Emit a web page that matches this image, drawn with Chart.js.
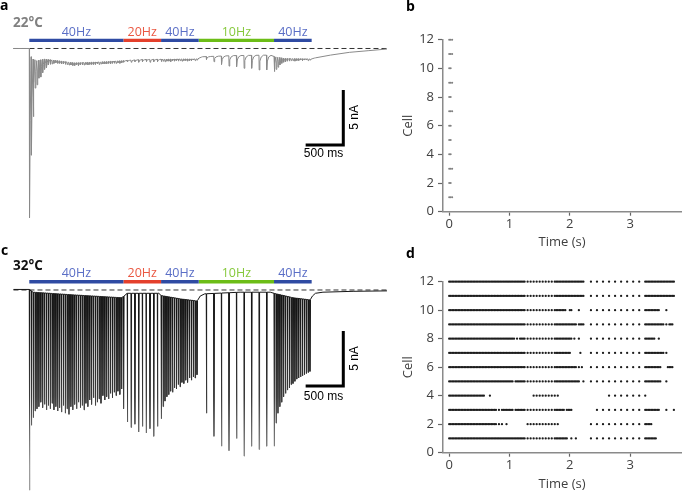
<!DOCTYPE html>
<html lang="en">
<head>
<meta charset="UTF-8" />
<title>EPSC trains and spike rasters</title>
<script src="https://cdn.jsdelivr.net/npm/chart.js"></script>
<style>
  html, body { margin: 0; padding: 0; background: #fff; overflow: hidden; }
  #fig { position: relative; width: 685px; height: 492px; overflow: hidden; font-family: 'Open Sans', sans-serif; }
  .panel { position: absolute; }
  .panel canvas { display: block; }
  .txt { position: absolute; line-height: 1; font-weight: bold; white-space: nowrap; }
</style>
</head>
<body>
<div id="fig">
  <div class="panel" style="left:0;top:0"><canvas id="traceA" width="400" height="250"></canvas></div>
  <div class="panel" style="left:400px;top:0"><canvas id="rasterB" width="285" height="250"></canvas></div>
  <div class="panel" style="left:0;top:250px"><canvas id="traceC" width="400" height="242"></canvas></div>
  <div class="panel" style="left:400px;top:250px"><canvas id="rasterD" width="285" height="242"></canvas></div>

  <div class="txt" style="left:0;top:-2.4px;font-size:14px">a</div>
  <div class="txt" style="left:406px;top:-0.7px;font-size:14px">b</div>
  <div class="txt" style="left:1px;top:243px;font-size:14px">c</div>
  <div class="txt" style="left:406px;top:245.6px;font-size:14px">d</div>
  <div class="txt" style="left:13px;top:16.3px;font-size:13.5px;color:#808080">22°C</div>
  <div class="txt" style="left:13px;top:258.7px;font-size:13.5px;color:#111">32°C</div>
</div>
<script>
// stimulation protocol
const stimLabels = ['40Hz', '20Hz', '40Hz', '10Hz', '40Hz'];
const stimStart = [0, 1.25, 1.75, 2.25, 3.25];
const stimEnd = [1.25, 1.75, 2.25, 3.25, 3.75];
const stimHz = [40, 20, 40, 10, 40];
const stimFirst = [0, 0, 0, 1, 0]; // the 10 Hz train starts one period in

// 22°C trace: peak current of each evoked EPSC (nA), per train
const peaks22 = [
  [-15.4, -9.7, -6.2, -3.6, -3.3, -2.7, -2.6, -2.2, -1.9, -1.75,
   -1.5, -1.45, -1.4, -1.35, -1.3, -1.35, -1.35, -1.4, -1.4, -1.45,
   -1.45, -1.5, -1.5, -1.55, -1.55, -1.5, -1.55, -1.5, -1.5, -1.5,
   -1.45, -1.5, -1.45, -1.45, -1.45, -1.45, -1.4, -1.45, -1.4, -1.4,
   -1.4, -1.4, -1.35, -1.4, -1.35, -1.35, -1.35, -1.3, -1.35, -1.3],
  [-1.25, -1.2, -1.25, -1.2, -1.25, -1.2, -1.2, -1.25, -1.2, -1.2],
  [-1.2, -1.15, -1.2, -1.15, -1.15, -1.2, -1.1, -1.15, -1.1, -1.15,
   -1.1, -1.15, -1.1, -1.1, -1.15, -1.1, -1.1, -1.05, -1.1, -1.05],
  [-1.0, -1.2, -1.45, -1.6, -1.65, -1.8, -1.8, -1.95, -1.95],
  [-2.1, -1.9, -1.7, -1.5, -1.35, -1.25, -1.2, -1.15, -1.15, -1.1,
   -1.1, -1.15, -1.1, -1.1, -1.05, -1.1, -1.05, -1.05, -1.1, -1.05]
];
// 22°C slow (holding) current between EPSCs
const floorT22 = [-0.21, 0, 0.03, 0.1, 0.2, 0.6, 1.0, 1.5, 2.0, 2.22, 2.3, 2.7, 3.2, 3.26, 3.4, 3.74, 3.8, 4.0, 4.25, 4.5, 4.75];
const floorV22 = [0, 0, -0.9, -1.1, -0.95, -1.3, -1.2, -1.0, -0.95, -0.95, -0.75, -0.65, -0.6, -0.75, -0.9, -0.95, -0.85, -0.6, -0.35, -0.2, -0.05];

// 32°C trace
const peaks32 = [
  [-18.2, -12.3, -11.6, -11.0, -10.8, -10.6, -10.2, -10.7, -10.4, -10.9,
   -10.5, -10.8, -10.3, -10.9, -10.6, -11.0, -10.7, -11.1, -10.5, -11.2,
   -10.8, -11.3, -10.6, -10.9, -10.4, -10.8, -10.2, -10.7, -10.5, -10.9,
   -10.3, -10.6, -10.0, -10.4, -9.8, -10.5, -10.2, -9.9, -10.3, -9.6,
   -10.0, -9.7, -9.9, -9.4, -9.8, -9.3, -9.6, -9.2, -9.5, -9.0],
  [-10.8, -12.0, -12.5, -12.2, -12.9, -12.4, -13.0, -12.6, -13.3, -12.4],
  [-11.7, -10.6, -10.1, -9.7, -9.5, -9.2, -9.3, -8.9, -9.0, -8.6,
   -8.8, -8.4, -8.5, -8.2, -8.4, -8.0, -8.2, -7.9, -8.0, -7.7],
  [-11.2, -13.3, -14.2, -14.6, -13.5, -15.1, -14.2, -14.5, -14.2],
  [-14.2, -12.1, -11.2, -10.6, -10.2, -9.7, -9.4, -9.1, -8.9, -8.6,
   -8.5, -8.3, -8.1, -8.0, -7.9, -7.8, -7.7, -7.6, -7.5, -7.4]
];
const floorT32 = [-0.21, 0, 0.05, 0.6, 1.22, 1.25, 1.3, 1.72, 1.75, 2.0, 2.23, 2.27, 2.33, 2.8, 3.2, 3.25, 3.5, 3.73, 3.76, 3.8, 3.9, 4.3, 4.75];
const floorV32 = [0.05, 0.05, -0.2, -0.45, -0.7, -0.6, -0.3, -0.3, -0.5, -0.8, -1.0, -0.55, -0.35, -0.2, -0.2, -0.3, -0.7, -0.9, -0.55, -0.3, -0.2, -0.12, -0.08];

// rasters: time windows (s) in which each cell (1..12) fired on every pulse
const cells22 = [
  [[0, 0.05]], [[0, 0.025]], [[0, 0.05]], [[0, 0.025]], [[0, 0.025]], [[0, 0.025]],
  [[0, 0.05]], [[0, 0.025]], [[0, 0.05]], [[0, 0.025]], [[0, 0.05]], [[0, 0.05]]
];
const cells32 = [
  [[0, 1.95], [2.025, 2.025], [2.1, 2.1], [2.35, 3.425]],
  [[0, 0.775], [0.825, 0.825], [0.875, 0.875], [0.95, 0.95], [1.3, 1.7], [1.75, 1.75], [1.8, 1.8], [2.35, 3.35]],
  [[0, 0.775], [0.825, 0.825], [0.875, 1.05], [1.1, 1.9], [1.95, 2.025], [2.45, 3.475], [3.6, 3.6], [3.725, 3.725]],
  [[0, 0.575], [0.675, 0.675], [1.4, 1.7], [1.75, 1.75], [1.8, 1.8], [2.65, 3.15], [3.25, 3.25]],
  [[0, 1.05], [1.1, 2.15], [2.225, 2.225], [2.35, 3.5], [3.6, 3.6]],
  [[0, 2.1], [2.15, 2.15], [2.2, 2.2], [2.35, 3.5], [3.625, 3.7]],
  [[0, 2.0], [2.175, 2.175], [2.35, 3.55], [3.6, 3.6]],
  [[0, 1.075], [1.125, 1.125], [1.175, 1.225], [1.25, 2.025], [2.075, 2.075], [2.15, 2.15], [2.35, 3.4], [3.475, 3.475]],
  [[0, 2.1], [2.15, 2.225], [2.35, 3.55], [3.6, 3.6], [3.65, 3.7]],
  [[0, 1.925], [2.0, 2.025], [2.15, 2.15], [2.35, 3.475], [3.6, 3.6]],
  [[0, 3.75]],
  [[0, 3.75]]
];
const cellTicks = [0, 2, 4, 6, 8, 10, 12];
const timeTicks = [0, 1, 2, 3];

const stimColors = ['#2f4ba3', '#e4402c', '#2f4ba3', '#6cbd17', '#2f4ba3'];
const stimTextColors = ['#5a6ec6', '#ea5842', '#5a6ec6', '#86c93c', '#5a6ec6'];

Chart.defaults.font.family = "'Open Sans', sans-serif";

function pulseTime(b, k) {
  return +(stimStart[b] + (k + stimFirst[b]) / stimHz[b]).toFixed(4);
}

const rasterPulses = [];
stimStart.forEach((s, b) => {
  const n = Math.round((stimEnd[b] - s) * stimHz[b]) - stimFirst[b];
  for (let k = 0; k < n; k++) rasterPulses.push(pulseTime(b, k));
});

function floorAt(ft, fv, t) {
  if (t <= ft[0]) return fv[0];
  for (let i = 1; i < ft.length; i++) {
    if (t <= ft[i]) return fv[i - 1] + (fv[i] - fv[i - 1]) * (t - ft[i - 1]) / (ft[i] - ft[i - 1]);
  }
  return fv[fv.length - 1];
}

function buildTrace(peaks, ft, fv, shape) {
  const pulses = [];
  peaks.forEach((train, b) => train.forEach((p, k) => pulses.push({ t: pulseTime(b, k), peak: p })));
  const hold = shape.decay[shape.decay.length - 1][0];
  const pts = [];
  ft.forEach((t, i) => {
    if (!pulses.some(p => t >= p.t && t < p.t + hold)) pts.push({ x: t, y: fv[i] });
  });
  pulses.forEach((p, i) => {
    const next = i + 1 < pulses.length ? pulses[i + 1].t : Infinity;
    const base = floorAt(ft, fv, p.t);
    pts.push({ x: p.t, y: base });
    pts.push({ x: p.t + shape.rise, y: p.peak });
    shape.decay.forEach(([dt, frac]) => {
      if (p.t + dt < next - 0.001) pts.push({ x: p.t + dt, y: floorAt(ft, fv, p.t + dt) + frac * (p.peak - base) });
    });
  });
  return pts.sort((a, b) => a.x - b.x);
}

function rasterPoints(cells) {
  const pts = [];
  cells.forEach((wins, i) => {
    rasterPulses.forEach(t => {
      if (wins.some(([a, b]) => t >= a - 0.001 && t <= b + 0.001)) pts.push({ x: t, y: i + 1 });
    });
  });
  return pts;
}

// stimulus labels and scale-bar labels
const traceLabels = {
  id: 'traceLabels',
  afterDatasetsDraw(chart, args, opts) {
    const { ctx, scales: { x, y } } = chart;
    ctx.save();
    ctx.textAlign = 'center';
    ctx.textBaseline = 'alphabetic';
    ctx.font = "12.5px 'Open Sans'";
    stimLabels.forEach((lab, i) => {
      ctx.fillStyle = stimTextColors[i];
      ctx.fillText(lab, x.getPixelForValue((stimStart[i] + stimEnd[i]) / 2), y.getPixelForValue(opts.barLevel) - 4.5);
    });
    ctx.fillStyle = '#000';
    ctx.font = "12px 'Liberation Sans'";
    ctx.fillText('500 ms', x.getPixelForValue(opts.sbT + 0.25) - 1, y.getPixelForValue(opts.sbY) + opts.msGap);
    ctx.translate(x.getPixelForValue(opts.sbT + 0.5) + 15, y.getPixelForValue(opts.sbY + 2.5));
    ctx.rotate(-Math.PI / 2);
    ctx.fillText('5 nA', 0, 0);
    ctx.restore();
  }
};

function traceChart(id, points, yMin, yMax, lineColor, o) {
  const datasets = [{
    data: points,
    borderColor: lineColor,
    borderWidth: 1,
    borderJoinStyle: 'bevel',
    pointRadius: 0,
    showLine: true
  }, {
    data: [{ x: -0.21, y: 0 }, { x: 4.75, y: 0 }],
    borderColor: '#333',
    borderWidth: 1,
    borderDash: [5, 3],
    pointRadius: 0,
    showLine: true
  }];
  stimStart.forEach((s, i) => datasets.push({
    data: [{ x: s, y: o.barLevel }, { x: stimEnd[i], y: o.barLevel }],
    borderColor: stimColors[i],
    borderWidth: 3.3,
    borderCapStyle: 'butt',
    pointRadius: 0,
    showLine: true
  }));
  datasets.push({
    data: [{ x: o.sbT, y: o.sbY }, { x: o.sbT + 0.5, y: o.sbY }, { x: o.sbT + 0.5, y: o.sbY + 5 }],
    borderColor: '#000',
    borderWidth: 3,
    borderJoinStyle: 'miter',
    borderCapStyle: 'butt',
    pointRadius: 0,
    showLine: true
  });
  return new Chart(document.getElementById(id), {
    type: 'scatter',
    data: { datasets },
    options: {
      responsive: false,
      animation: false,
      events: [],
      layout: { padding: 0 },
      elements: { line: { tension: 0, fill: false } },
      plugins: { legend: { display: false }, tooltip: { enabled: false }, traceLabels: o },
      scales: {
        x: { type: 'linear', display: false, min: -0.389, max: 4.923 },
        y: { type: 'linear', display: false, min: yMin, max: yMax }
      }
    },
    plugins: [traceLabels]
  });
}

function rasterChart(id, cells, color, radius, padTop, xAxisH) {
  const axisFont = { size: 13 };
  return new Chart(document.getElementById(id), {
    type: 'scatter',
    data: { datasets: [{ data: rasterPoints(cells), backgroundColor: color, borderWidth: 0, pointRadius: radius, clip: 4 }] },
    options: {
      responsive: false,
      animation: false,
      events: [],
      layout: { padding: { top: padTop, right: 0, bottom: 0, left: 0 } },
      plugins: { legend: { display: false }, tooltip: { enabled: false } },
      scales: {
        x: {
          type: 'linear', min: -0.1027, max: 3.843,
          afterBuildTicks: s => { s.ticks = timeTicks.map(v => ({ value: v })); },
          afterFit: s => { s.height = xAxisH; },
          grid: { drawOnChartArea: false, tickLength: 4, tickColor: '#666', tickWidth: 1.2 },
          border: { color: '#8a8a8a', width: 1.5 },
          ticks: { color: '#404040', font: axisFont, padding: 1, maxRotation: 0 },
          title: { display: true, text: 'Time (s)', color: '#404040', font: axisFont, padding: 0 }
        },
        y: {
          type: 'linear', min: 0, max: 12,
          afterBuildTicks: s => { s.ticks = cellTicks.map(v => ({ value: v })); },
          afterFit: s => { s.width = 43; },
          grid: { drawOnChartArea: false, tickLength: 5, tickColor: '#666', tickWidth: 1.2 },
          border: { color: '#8a8a8a', width: 1.5 },
          ticks: { color: '#404040', font: axisFont, padding: 4 },
          title: { display: true, text: 'Cell', color: '#404040', font: axisFont, padding: 0 }
        }
      }
    }
  });
}

traceChart('traceA',
  buildTrace(peaks22, floorT22, floorV22, { rise: 0.003, decay: [[0.012, 0.4], [0.03, 0.12], [0.06, 0]] }),
  -18.32, 4.409, '#8a8a8a',
  { barLevel: 0.73, sbT: 3.67, sbY: -8.77, msGap: 12.5 });

traceChart('traceC',
  buildTrace(peaks32, floorT32, floorV32, { rise: 0.002, decay: [[0.008, 0]] }),
  -18.364, 3.636,
  ctx => {
    const { chart } = ctx;
    if (!chart.chartArea) return '#222';
    const y = chart.scales.y;
    const g = chart.ctx.createLinearGradient(0, y.getPixelForValue(-2), 0, y.getPixelForValue(-16));
    g.addColorStop(0, '#151515');
    g.addColorStop(0.55, '#3a3a3a');
    g.addColorStop(1, '#9a9a9a');
    return g;
  },
  { barLevel: 0.75, sbT: 3.67, sbY: -8.73, msGap: 14 });

rasterChart('rasterB', cells22, '#808080', 1.0, 39.7, 38.3);
rasterChart('rasterD', cells32, '#1c1c1c', 1.15, 31.7, 39.3);
</script>
</body>
</html>
